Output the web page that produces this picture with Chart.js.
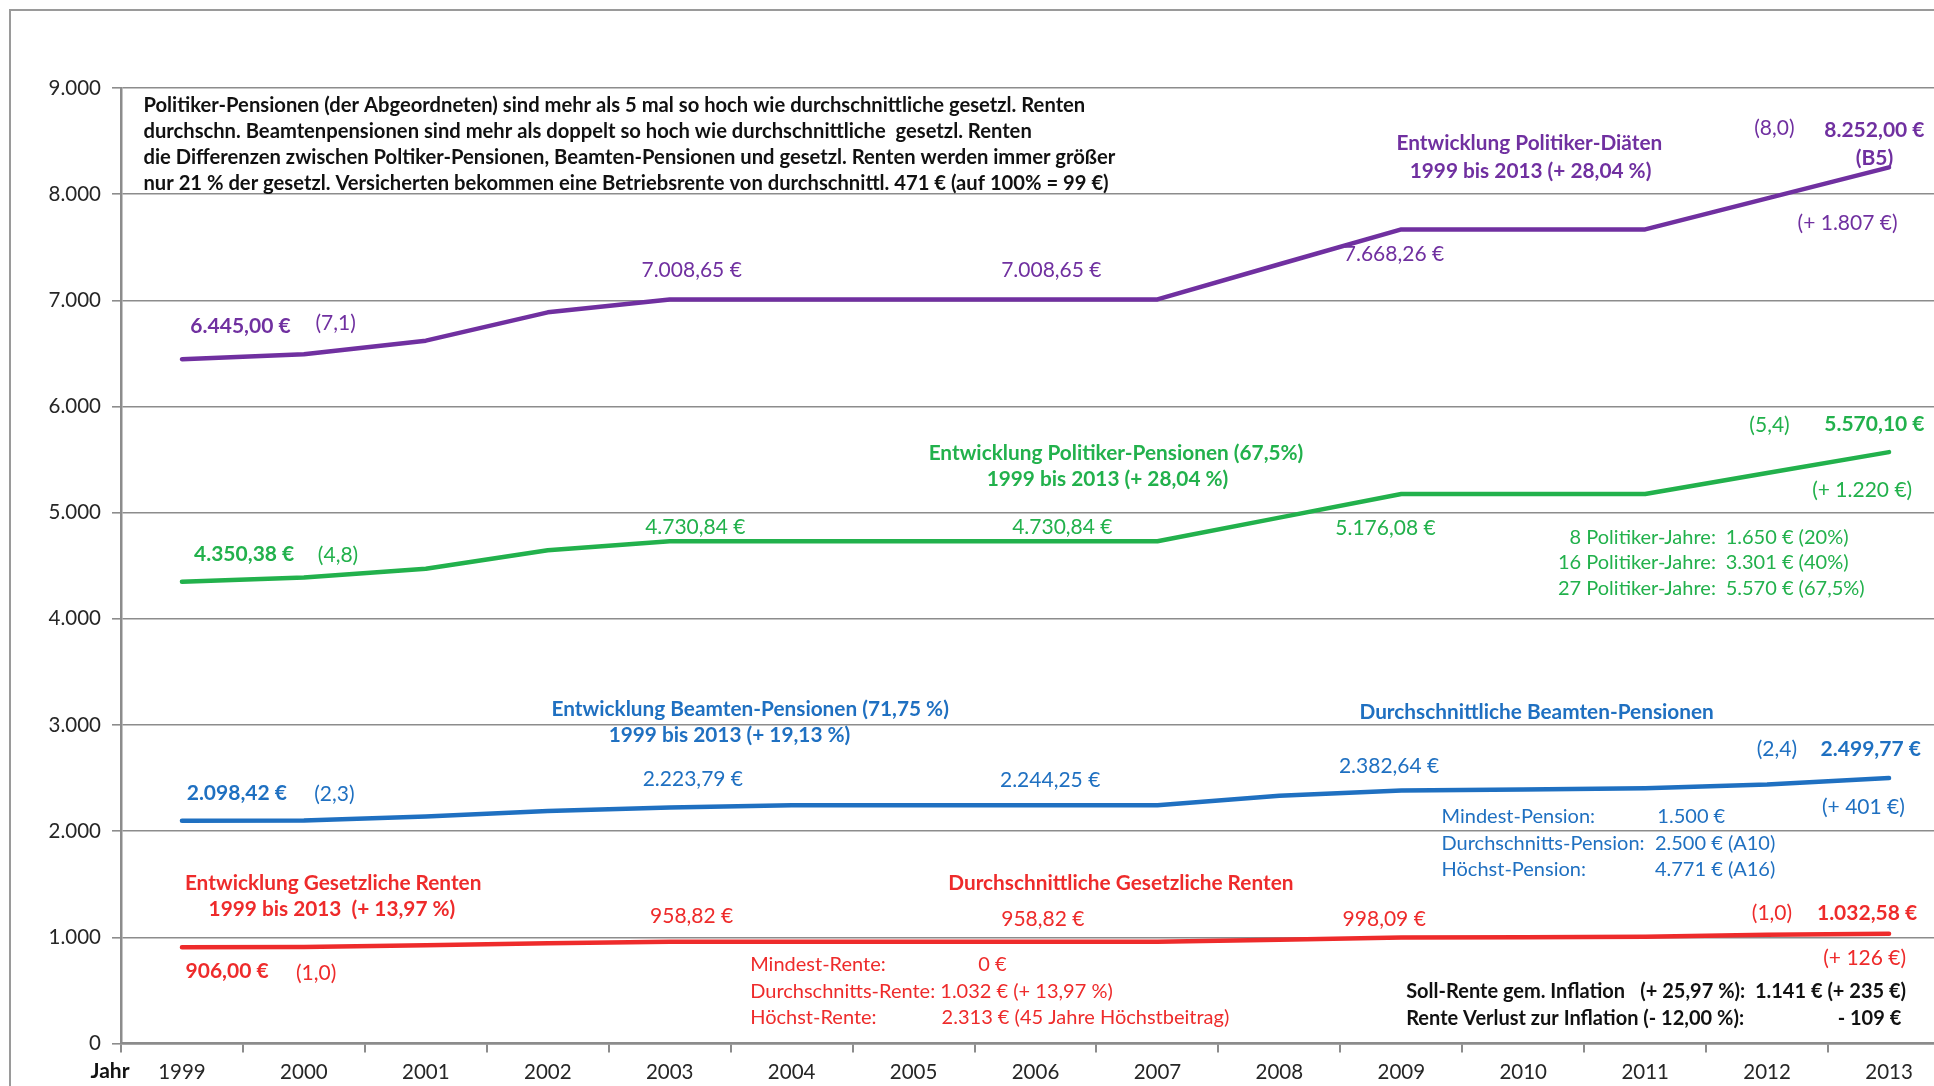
<!DOCTYPE html>
<html>
<head>
<meta charset="utf-8">
<script src="https://cdn.jsdelivr.net/npm/chart.js@4.4.1/dist/chart.umd.min.js"></script>
<style>
  html, body { margin: 0; padding: 0; background: #fff; overflow: hidden; width: 1934px; height: 1086px; }
  #wrap { position: absolute; left: 0; top: 0; width: 1950px; height: 1086px; }
</style>
</head>
<body>
<div id="wrap"><canvas id="c" width="1950" height="1086"></canvas></div>
<script>
// ---------------- DATA ----------------
const years = ['1999','2000','2001','2002','2003','2004','2005','2006','2007','2008','2009','2010','2011','2012','2013'];
const politikerDiaeten   = [6445.00, 6492, 6620, 6887, 7008.65, 7008.65, 7008.65, 7008.65, 7008.65, 7340, 7668.26, 7668.26, 7668.26, 7960, 8252.00];
const politikerPensionen = [4350.38, 4390, 4471, 4646, 4730.84, 4730.84, 4730.84, 4730.84, 4730.84, 4953, 5176.08, 5176.08, 5176.08, 5373, 5570.10];
const beamtenPensionen   = [2098.42, 2100, 2137, 2190, 2223.79, 2244.25, 2244.25, 2244.25, 2244.25, 2334, 2382.64, 2393, 2404, 2439, 2499.77];
const gesetzlicheRenten  = [906.00, 910, 925, 945, 958.82, 958.82, 958.82, 958.82, 958.82, 978, 998.09, 1000, 1005, 1025, 1032.58];
const yAxisMin = 0, yAxisMax = 9000, yAxisStep = 1000;
const xAxisTitle = 'Jahr';

const headerLines = [
  'Politiker-Pensionen (der Abgeordneten) sind mehr als 5 mal so hoch wie durchschnittliche gesetzl. Renten',
  'durchschn. Beamtenpensionen sind mehr als doppelt so hoch wie durchschnittliche  gesetzl. Renten',
  'die Differenzen zwischen Poltiker-Pensionen, Beamten-Pensionen und gesetzl. Renten werden immer größer',
  'nur 21 % der gesetzl. Versicherten bekommen eine Betriebsrente von durchschnittl. 471 € (auf 100% = 99 €)'
];

// ---------------- STYLE / LAYOUT ----------------
const PURPLE = '#7030A0', GREEN = '#22B14C', BLUE = '#1F70C1', RED = '#EE2B2B', BLACK = '#111111';
const FONT = 'Lato, "Open Sans", sans-serif';
const NUM = 21;    // value labels
const PAR = 21;    // small parenthesis labels
const TTL = 20.8;  // bold titles
const SUB = 20.0;  // sub notes
const BLK = 20.0;  // black bottom notes

function fmtThousands(v) {
  const s = String(Math.round(v));
  return s.replace(/\B(?=(\d{3})+(?!\d))/g, '.');
}

// notes: t=text, x=category index, y=value, c=color, b=bold, s=size, a=align
const notes = [
  // header
  ...headerLines.map((t, i) => ({ t, x: -0.316, y: 8836 - i * 245, c: BLACK, b: true, s: 20.2, a: 'left' })),
  // purple
  { t: '6.445,00 €', x: 0.48, y: 6755, c: PURPLE, b: true, s: NUM, a: 'center' },
  { t: '(7,1)', x: 1.26, y: 6783, c: PURPLE, s: PAR, a: 'center' },
  { t: '7.008,65 €', x: 4.18, y: 7283, c: PURPLE, s: NUM, a: 'center' },
  { t: '7.008,65 €', x: 7.13, y: 7283, c: PURPLE, s: NUM, a: 'center' },
  { t: '7.668,26 €', x: 9.94, y: 7433, c: PURPLE, s: NUM, a: 'center' },
  { t: 'Entwicklung Politiker-Diäten', x: 11.05, y: 8478, c: PURPLE, b: true, s: TTL, a: 'center' },
  { t: '1999 bis 2013 (+ 28,04 %)', x: 11.06, y: 8214, c: PURPLE, b: true, s: TTL, a: 'center' },
  { t: '(8,0)', x: 13.06, y: 8619, c: PURPLE, s: PAR, a: 'center' },
  { t: '8.252,00 €', x: 13.88, y: 8600, c: PURPLE, b: true, s: NUM, a: 'center' },
  { t: '(B5)', x: 13.88, y: 8337, c: PURPLE, b: true, s: NUM, a: 'center' },
  { t: '(+ 1.807 €)', x: 13.66, y: 7725, c: PURPLE, s: NUM, a: 'center' },
  // green
  { t: '4.350,38 €', x: 0.51, y: 4609, c: GREEN, b: true, s: NUM, a: 'center' },
  { t: '(4,8)', x: 1.28, y: 4599, c: GREEN, s: PAR, a: 'center' },
  { t: '4.730,84 €', x: 4.21, y: 4863, c: GREEN, s: NUM, a: 'center' },
  { t: '4.730,84 €', x: 7.22, y: 4863, c: GREEN, s: NUM, a: 'center' },
  { t: '5.176,08 €', x: 9.87, y: 4853, c: GREEN, s: NUM, a: 'center' },
  { t: 'Entwicklung Politiker-Pensionen (67,5%)', x: 7.66, y: 5559, c: GREEN, b: true, s: TTL, a: 'center' },
  { t: '1999 bis 2013 (+ 28,04 %)', x: 7.59, y: 5315, c: GREEN, b: true, s: TTL, a: 'center' },
  { t: '(5,4)', x: 13.02, y: 5823, c: GREEN, s: PAR, a: 'center' },
  { t: '5.570,10 €', x: 13.88, y: 5833, c: GREEN, b: true, s: NUM, a: 'center' },
  { t: '(+ 1.220 €)', x: 13.78, y: 5211, c: GREEN, s: NUM, a: 'center' },
  { t: '8 Politiker-Jahre:', x: 12.58, y: 4768, c: GREEN, s: SUB, a: 'right' },
  { t: '1.650 € (20%)', x: 12.66, y: 4768, c: GREEN, s: SUB, a: 'left' },
  { t: '16 Politiker-Jahre:', x: 12.58, y: 4533, c: GREEN, s: SUB, a: 'right' },
  { t: '3.301 € (40%)', x: 12.66, y: 4533, c: GREEN, s: SUB, a: 'left' },
  { t: '27 Politiker-Jahre:', x: 12.58, y: 4288, c: GREEN, s: SUB, a: 'right' },
  { t: '5.570 € (67,5%)', x: 12.66, y: 4288, c: GREEN, s: SUB, a: 'left' },
  // blue
  { t: '2.098,42 €', x: 0.45, y: 2358, c: BLUE, b: true, s: NUM, a: 'center' },
  { t: '(2,3)', x: 1.25, y: 2349, c: BLUE, s: PAR, a: 'center' },
  { t: '2.223,79 €', x: 4.19, y: 2490, c: BLUE, s: NUM, a: 'center' },
  { t: '2.244,25 €', x: 7.12, y: 2481, c: BLUE, s: NUM, a: 'center' },
  { t: '2.382,64 €', x: 9.90, y: 2613, c: BLUE, s: NUM, a: 'center' },
  { t: 'Entwicklung Beamten-Pensionen (71,75 %)', x: 4.66, y: 3149, c: BLUE, b: true, s: TTL, a: 'center' },
  { t: '1999 bis 2013 (+ 19,13 %)', x: 4.49, y: 2905, c: BLUE, b: true, s: TTL, a: 'center' },
  { t: 'Durchschnittliche Beamten-Pensionen', x: 11.11, y: 3121, c: BLUE, b: true, s: TTL, a: 'center' },
  { t: '(2,4)', x: 13.08, y: 2773, c: BLUE, s: PAR, a: 'center' },
  { t: '2.499,77 €', x: 13.85, y: 2773, c: BLUE, b: true, s: NUM, a: 'center' },
  { t: '(+ 401 €)', x: 13.79, y: 2227, c: BLUE, s: NUM, a: 'center' },
  { t: 'Mindest-Pension:', x: 10.33, y: 2133, c: BLUE, s: SUB, a: 'left' },
  { t: '1.500 €', x: 12.10, y: 2133, c: BLUE, s: SUB, a: 'left' },
  { t: 'Durchschnitts-Pension:', x: 10.33, y: 1879, c: BLUE, s: SUB, a: 'left' },
  { t: '2.500 € (A10)', x: 12.08, y: 1879, c: BLUE, s: SUB, a: 'left' },
  { t: 'Höchst-Pension:', x: 10.33, y: 1634, c: BLUE, s: SUB, a: 'left' },
  { t: '4.771 € (A16)', x: 12.08, y: 1634, c: BLUE, s: SUB, a: 'left' },
  // red
  { t: 'Entwicklung Gesetzliche Renten', x: 1.24, y: 1511, c: RED, b: true, s: TTL, a: 'center' },
  { t: '1999 bis 2013  (+ 13,97 %)', x: 1.23, y: 1266, c: RED, b: true, s: TTL, a: 'center' },
  { t: '906,00 €', x: 0.37, y: 683, c: RED, b: true, s: NUM, a: 'center' },
  { t: '(1,0)', x: 1.10, y: 664, c: RED, s: PAR, a: 'center' },
  { t: '958,82 €', x: 4.18, y: 1200, c: RED, s: NUM, a: 'center' },
  { t: '958,82 €', x: 7.06, y: 1172, c: RED, s: NUM, a: 'center' },
  { t: '998,09 €', x: 9.86, y: 1172, c: RED, s: NUM, a: 'center' },
  { t: 'Durchschnittliche Gesetzliche Renten', x: 7.70, y: 1511, c: RED, b: true, s: TTL, a: 'center' },
  { t: '(1,0)', x: 13.04, y: 1229, c: RED, s: PAR, a: 'center' },
  { t: '1.032,58 €', x: 13.82, y: 1229, c: RED, b: true, s: NUM, a: 'center' },
  { t: '(+ 126 €)', x: 13.80, y: 805, c: RED, s: NUM, a: 'center' },
  { t: 'Mindest-Rente:', x: 4.66, y: 739, c: RED, s: SUB, a: 'left' },
  { t: '0 €', x: 6.53, y: 739, c: RED, s: SUB, a: 'left' },
  { t: 'Durchschnitts-Rente: 1.032 € (+ 13,97 %)', x: 4.66, y: 494, c: RED, s: SUB, a: 'left' },
  { t: 'Höchst-Rente:', x: 4.66, y: 240, c: RED, s: SUB, a: 'left' },
  { t: '2.313 € (45 Jahre Höchstbeitrag)', x: 6.23, y: 240, c: RED, s: SUB, a: 'left' },
  // black bottom right
  { t: 'Soll-Rente gem. Inflation', x: 10.04, y: 485, c: BLACK, b: true, s: BLK, a: 'left' },
  { t: '(+ 25,97 %):', x: 11.96, y: 485, c: BLACK, b: true, s: BLK, a: 'left' },
  { t: '1.141 € (+ 235 €)', x: 12.90, y: 485, c: BLACK, b: true, s: BLK, a: 'left' },
  { t: 'Rente Verlust zur Inflation (- 12,00 %):', x: 10.04, y: 231, c: BLACK, b: true, s: BLK, a: 'left' },
  { t: '- 109 €', x: 14.10, y: 231, c: BLACK, b: true, s: BLK, a: 'right' }
];

function drawText(ctx, t, x, y, size, bold, color, align) {
  ctx.save();
  ctx.font = (bold ? 'bold ' : '') + size + 'px ' + FONT;
  ctx.fillStyle = color;
  ctx.textAlign = align;
  ctx.textBaseline = 'middle';
  ctx.fillText(t, x, y);
  ctx.restore();
}

const framePlugin = {
  id: 'frame',
  beforeDraw(chart) {
    const ctx = chart.ctx;
    ctx.save();
    ctx.fillStyle = '#ffffff';
    ctx.fillRect(0, 0, chart.width, chart.height);
    ctx.strokeStyle = '#9a9a9a';
    ctx.lineWidth = 2;
    ctx.beginPath();
    ctx.moveTo(10, chart.height + 5);
    ctx.lineTo(10, 10);
    ctx.lineTo(chart.width + 5, 10);
    ctx.stroke();
    ctx.restore();
  }
};

const notesPlugin = {
  id: 'notes',
  afterDatasetsDraw(chart) {
    const ctx = chart.ctx;
    const xs = chart.scales.x, ys = chart.scales.y;
    notes.forEach(n => {
      drawText(ctx, n.t, xs.getPixelForValue(n.x), ys.getPixelForValue(n.y), n.s, !!n.b, n.c, n.a);
    });
    // axis title "Jahr"
    drawText(ctx, xAxisTitle, xs.getPixelForValue(-0.59), ys.getPixelForValue(0) + 28, 21, true, BLACK, 'center');
  }
};

const ds = (label, data, color) => ({
  label, data, borderColor: color, backgroundColor: color,
  borderWidth: 4.5, pointRadius: 0, tension: 0, fill: false,
  borderCapStyle: 'round', borderJoinStyle: 'round'
});

new Chart(document.getElementById('c'), {
  type: 'line',
  data: {
    labels: years,
    datasets: [
      ds('Politiker-Diäten', politikerDiaeten, PURPLE),
      ds('Politiker-Pensionen', politikerPensionen, GREEN),
      ds('Beamten-Pensionen', beamtenPensionen, BLUE),
      ds('Gesetzliche Renten', gesetzlicheRenten, RED)
    ]
  },
  options: {
    responsive: false,
    animation: false,
    devicePixelRatio: 1,
    layout: { padding: { top: 88, left: 0, right: 0, bottom: 0 } },
    plugins: { legend: { display: false }, tooltip: { enabled: false } },
    scales: {
      x: {
        type: 'category',
        offset: true,
        grid: { display: true, offset: true, drawOnChartArea: false, drawTicks: true, tickLength: 9, color: '#8c8c8c', lineWidth: 2 },
        border: { display: true, color: '#8c8c8c', width: 2.5 },
        ticks: { color: '#262626', font: { family: FONT, size: 20.5 }, padding: 8, maxRotation: 0, autoSkip: false },
        afterFit(s) { s.height = 42.5; }
      },
      y: {
        min: yAxisMin, max: yAxisMax,
        ticks: { stepSize: yAxisStep, color: '#262626', font: { family: FONT, size: 20.5 }, padding: 11, callback: v => fmtThousands(v) },
        grid: { color: '#8c8c8c', lineWidth: 1.6, tickLength: 9, drawTicks: true },
        border: { display: true, color: '#8c8c8c', width: 2.5 },
        afterFit(s) { s.width = 121; }
      }
    }
  },
  plugins: [framePlugin, notesPlugin]
});
</script>
</body>
</html>
